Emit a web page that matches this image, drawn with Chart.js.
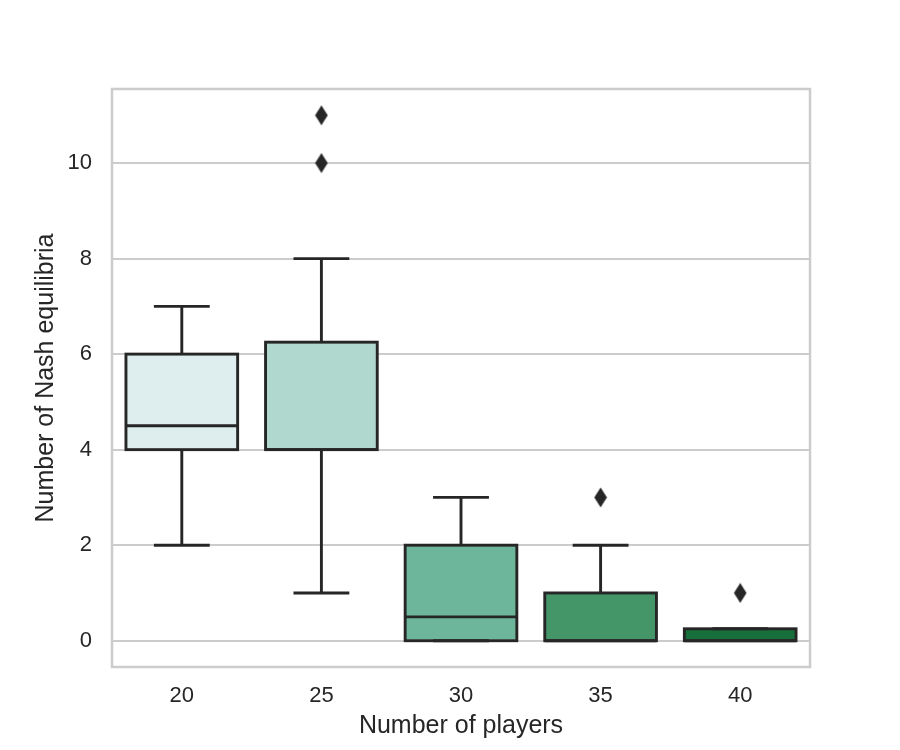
<!DOCTYPE html>
<html><head><meta charset="utf-8">
<script src="https://cdn.jsdelivr.net/npm/chart.js@4/dist/chart.umd.min.js"></script>
<style>html,body{margin:0;padding:0;background:#fff}canvas{display:block}</style>
</head><body>
<canvas id="c" width="900" height="750"></canvas>
<script>
const categories = ['20', '25', '30', '35', '40'];
const q1 = [4, 4, 0, 0, 0];
const q3 = [6, 6.25, 2, 1, 0.25];
const medians = [4.5, 4, 0.5, 0, 0];
const whiskerLow = [2, 1, 0, 0, 0];
const whiskerHigh = [7, 8, 3, 2, 0.25];
const outliers = [[], [10, 11], [], [3], [1]];
const yTicks = [0, 2, 4, 6, 8, 10];
const boxColors = ['#deeeee', '#b0d8cf', '#6eb69b', '#449668', '#17703b'];

const LINE = '#262626';
const FONT = "'Liberation Sans', Arial, sans-serif";

// diamond marker
const dia = document.createElement('canvas');
dia.width = 14; dia.height = 21;
(function(){
  const g = dia.getContext('2d');
  g.fillStyle = LINE;
  g.beginPath();
  g.moveTo(7, 0.5); g.lineTo(13.3, 10.5); g.lineTo(7, 20.5); g.lineTo(0.7, 10.5); g.closePath();
  g.fill();
})();

const outlierPoints = [];
outliers.forEach((arr, i) => arr.forEach(v => outlierPoints.push({x: categories[i], y: v})));

const boxPlugin = {
  id: 'boxPlugin',
  beforeDatasetsDraw(chart) {
    const {ctx, chartArea: a} = chart;
    ctx.save();
    ctx.strokeStyle = '#cccccc';
    ctx.lineWidth = 2.5;
    ctx.strokeRect(a.left, a.top, a.right - a.left, a.bottom - a.top);
    ctx.restore();
  },
  afterDatasetsDraw(chart) {
    const {ctx} = chart;
    const ys = chart.scales.y;
    const meta = chart.getDatasetMeta(0);
    ctx.save();
    ctx.strokeStyle = LINE;
    ctx.lineWidth = 2.9;
    ctx.lineCap = 'butt';
    meta.data.forEach((bar, i) => {
      const x = bar.x, w = bar.width;
      const left = x - w / 2, right = x + w / 2;
      const yq1 = ys.getPixelForValue(q1[i]);
      const yq3 = ys.getPixelForValue(q3[i]);
      const ylo = ys.getPixelForValue(whiskerLow[i]);
      const yhi = ys.getPixelForValue(whiskerHigh[i]);
      const ymed = ys.getPixelForValue(medians[i]);
      const capHalf = w / 4;
      ctx.beginPath();
      ctx.moveTo(x, yq3); ctx.lineTo(x, yhi);
      ctx.moveTo(x, yq1); ctx.lineTo(x, ylo);
      ctx.moveTo(x - capHalf, yhi); ctx.lineTo(x + capHalf, yhi);
      ctx.moveTo(x - capHalf, ylo); ctx.lineTo(x + capHalf, ylo);
      ctx.moveTo(left, ymed); ctx.lineTo(right, ymed);
      ctx.stroke();
      ctx.lineJoin = 'miter';
      ctx.strokeRect(left, yq3, w, yq1 - yq3);
    });
    ctx.restore();
  }
};

new Chart(document.getElementById('c'), {
  data: {
    labels: categories,
    datasets: [
      {
        type: 'bar',
        data: categories.map((c, i) => [q1[i], q3[i]]),
        backgroundColor: boxColors,
        borderWidth: 0,
        barPercentage: 0.8,
        categoryPercentage: 1.0,
        order: 2
      },
      {
        type: 'line',
        data: outlierPoints,
        showLine: false,
        pointStyle: dia,
        pointRadius: 7,
        order: 1
      }
    ]
  },
  options: {
    responsive: false,
    animation: false,
    layout: {padding: {left: 0, right: 90, top: 89, bottom: 0}},
    plugins: {legend: {display: false}, tooltip: {enabled: false}},
    scales: {
      x: {
        type: 'category',
        grid: {display: false, drawTicks: false},
        border: {display: false},
        ticks: {color: LINE, font: {family: FONT, size: 22}, padding: 16},
        title: {display: true, text: 'Number of players', color: LINE,
                font: {family: FONT, size: 25}, padding: {top: 0, bottom: 9}},
        afterFit(s) { s.height = 83; }
      },
      y: {
        type: 'linear',
        min: -0.55,
        max: 11.55,
        grid: {color: '#cccccc', lineWidth: 2, drawTicks: false},
        border: {display: false},
        ticks: {color: LINE, font: {family: FONT, size: 22}, padding: 20},
        afterBuildTicks(s) { s.ticks = yTicks.map(v => ({value: v})); },
        title: {display: true, text: 'Number of Nash equilibria', color: LINE,
                font: {family: FONT, size: 25}, padding: {top: 31, bottom: 0}},
        afterFit(s) { s.width = 112; }
      }
    }
  },
  plugins: [boxPlugin]
});
</script>
</body></html>
